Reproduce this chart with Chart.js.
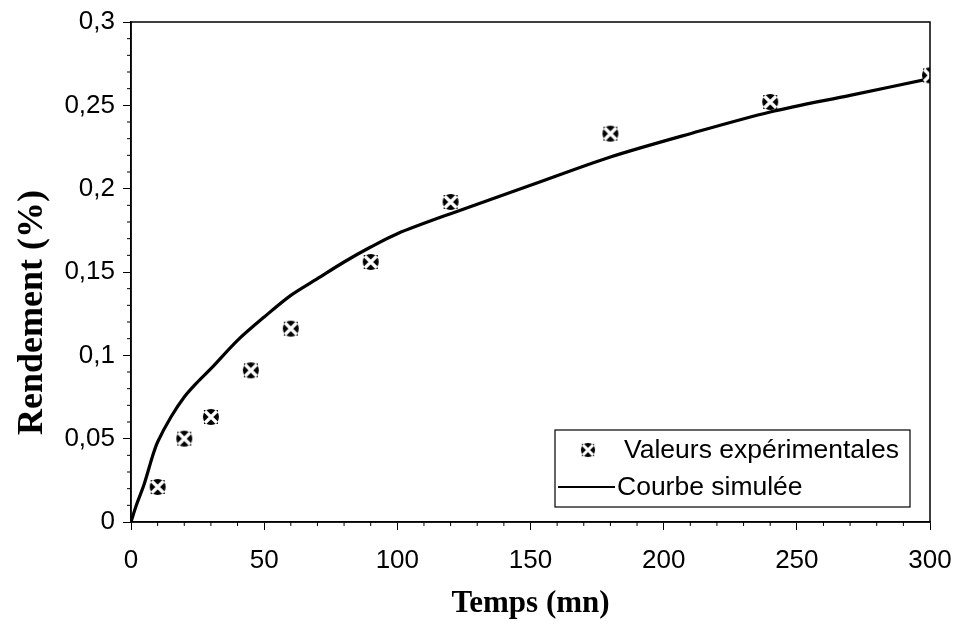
<!DOCTYPE html>
<html><head><meta charset="utf-8">
<script src="https://cdn.jsdelivr.net/npm/chart.js@4/dist/chart.umd.min.js"></script>
<style>html,body{margin:0;padding:0;background:#fff}#wrap{width:953px;height:638px}</style>
</head><body><div id="wrap"><canvas id="c" width="953" height="638"></canvas></div>
<script>
// Experimental points
const expTimes = [10, 20, 30, 45, 60, 90, 120, 180, 240, 300];
const expYields = [0.021, 0.050, 0.063, 0.091, 0.116, 0.156, 0.192, 0.233, 0.252, 0.268];
// Simulated curve
const simTimes = [0, 2, 5, 8, 10, 15, 20, 25, 30, 40, 50, 60, 70, 80, 90, 100, 120, 150, 180, 210, 240, 270, 300];
const simYields = [0, 0.010, 0.023, 0.039, 0.048, 0.063, 0.075, 0.084, 0.092, 0.109, 0.123, 0.136, 0.146, 0.156, 0.165, 0.173, 0.185, 0.202, 0.219, 0.233, 0.246, 0.256, 0.266];
const xTickValues = [0, 50, 100, 150, 200, 250, 300];
const yTickValues = [0, 0.05, 0.1, 0.15, 0.2, 0.25, 0.3];
const seriesLabels = ['Valeurs expérimentales', 'Courbe simulée'];

function markerImg(){
  const s = 18, m = document.createElement('canvas');
  m.width = s; m.height = s;
  const g = m.getContext('2d');
  g.fillStyle = '#000';
  g.beginPath(); g.arc(s/2, s/2, 8, 0, Math.PI*2); g.fill();
  g.fillRect(2,2,s-4,s-4);
  g.strokeStyle = '#fff'; g.lineWidth = 3.2; g.lineCap='butt';
  g.beginPath(); g.moveTo(3,3); g.lineTo(s-3,s-3); g.moveTo(s-3,3); g.lineTo(3,s-3); g.stroke();
  return m;
}
const mk = markerImg();

const frame = {
  id:'frame',
  afterDraw(chart){
    const {ctx, chartArea:a, scales:{x,y}} = chart;
    ctx.save();
    ctx.strokeStyle='#000'; ctx.lineWidth=1.5;
    ctx.strokeRect(a.left, a.top, a.right-a.left, a.bottom-a.top);
    // minor ticks
    ctx.lineWidth=1;
    ctx.beginPath();
    for(let v=0; v<=300; v+=10){ if(v%50===0) continue; const px=x.getPixelForValue(v); ctx.moveTo(px,a.bottom); ctx.lineTo(px,a.bottom+4); }
    for(let i=0;i<=30;i++){ if(i%5===0) continue; const py=y.getPixelForValue(i/100); ctx.moveTo(a.left,py); ctx.lineTo(a.left-4,py); }
    ctx.stroke();
    // legend
    const bx=555, by=430, bw=355, bh=77;
    ctx.fillStyle='#fff'; ctx.fillRect(bx,by,bw,bh);
    ctx.lineWidth=1.2; ctx.strokeRect(bx,by,bw,bh);
    ctx.font='26.5px "Liberation Sans", Arial, sans-serif';
    ctx.fillStyle='#000'; ctx.textBaseline='middle'; ctx.textAlign='left';
    ctx.drawImage(mk, 588-8, 450-8, 16, 16);
    ctx.fillText(seriesLabels[0], 624, 451);
    ctx.lineWidth=2; ctx.beginPath(); ctx.moveTo(558,487); ctx.lineTo(615,487); ctx.stroke();
    ctx.fillText(seriesLabels[1], 617, 488);
    ctx.restore();
  }
};

new Chart(document.getElementById('c'), {
  type:'scatter',
  data:{datasets:[
    {label:seriesLabels[1], data:simTimes.map((t,i)=>({x:t,y:simYields[i]})), showLine:true, borderColor:'#000', borderWidth:3.2, pointRadius:0, tension:0.3, order:2},
    {label:seriesLabels[0], data:expTimes.map((t,i)=>({x:t,y:expYields[i]})), pointStyle:mk, pointRadius:9, order:1}
  ]},
  options:{
    responsive:false, animation:false, devicePixelRatio:1,
    layout:{padding:{top:22,right:23,left:0,bottom:0}},
    plugins:{legend:{display:false}, tooltip:{enabled:false}},
    scales:{
      x:{type:'linear', min:0, max:300,
        afterFit(s){ s.height = 638-522; s.paddingLeft = 0; s.paddingRight = 0; },
        afterBuildTicks(s){ s.ticks = xTickValues.map(v=>({value:v})); },
        ticks:{color:'#000', font:{family:'"Liberation Sans", Arial, sans-serif', size:26}, padding:15, maxRotation:0},
        grid:{drawOnChartArea:false, drawTicks:true, tickLength:8, color:'#000'},
        border:{color:'#000', width:1.5},
        title:{display:true, text:'Temps (mn)', color:'#000', font:{family:'"Liberation Serif", "Times New Roman", serif', size:31, weight:'bold'}, padding:{top:0,bottom:15}}
      },
      y:{type:'linear', min:0, max:0.3,
        afterFit(s){ s.width = 131; s.paddingTop = 0; s.paddingBottom = 0; },
        afterBuildTicks(s){ s.ticks = yTickValues.map(v=>({value:v})); },
        ticks:{color:'#000', font:{family:'"Liberation Sans", Arial, sans-serif', size:26}, padding:8,
          callback:v=>String(Math.round(v*100)/100).replace('.',',')},
        grid:{drawOnChartArea:false, drawTicks:true, tickLength:8, color:'#000'},
        border:{color:'#000', width:1.5},
        title:{display:true, text:'Rendement (%)' + '\u00A0'.repeat(9), color:'#000', font:{family:'"Liberation Serif", "Times New Roman", serif', size:36, weight:'bold'}, padding:{top:11,bottom:0}}
      }
    }
  },
  plugins:[frame]
});
</script></body></html>
